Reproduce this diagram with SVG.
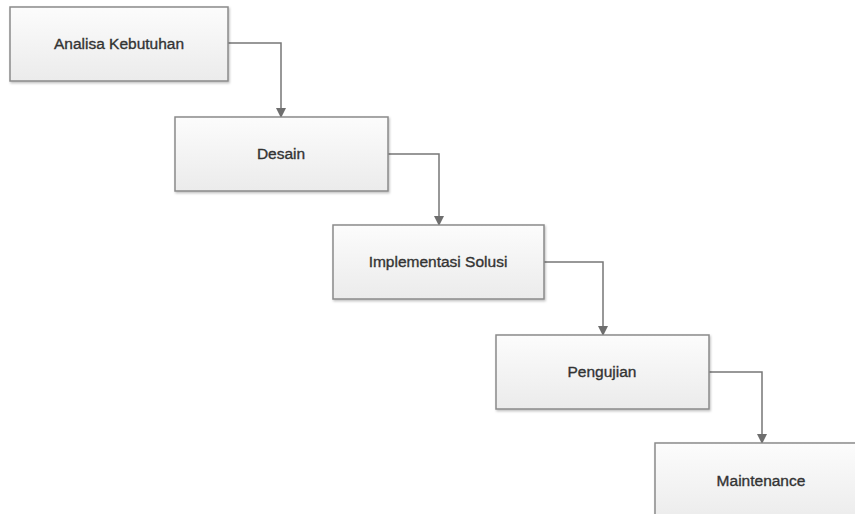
<svg xmlns="http://www.w3.org/2000/svg" width="855" height="514" viewBox="0 0 855 514">
<defs>
<linearGradient id="boxfill" x1="0" y1="0" x2="0" y2="1">
<stop offset="0" stop-color="#fcfcfc"/>
<stop offset="1" stop-color="#ebebeb"/>
</linearGradient>
<filter id="shadow" x="-5%" y="-5%" width="110%" height="115%">
<feDropShadow dx="1" dy="1.5" stdDeviation="1" flood-color="#000" flood-opacity="0.25"/>
</filter>
<marker id="arrow" viewBox="0 0 10 10" refX="9" refY="5" markerWidth="10" markerHeight="10" markerUnits="userSpaceOnUse" orient="auto">
<path d="M0,0 L10,5 L0,10 Z" fill="#6e6e6e"/>
</marker>
</defs>
<style>
.box{fill:url(#boxfill);stroke:#8a8a8a;stroke-width:1.5;filter:url(#shadow);}
.lbl{font-family:"Liberation Sans",Arial,sans-serif;font-size:15.5px;fill:#333;stroke:#333;stroke-width:0.35;text-anchor:middle;}
.conn{fill:none;stroke:#777;stroke-width:1.5;marker-end:url(#arrow);}
</style>
<rect width="855" height="514" fill="#ffffff"/>
<g id="connectors">
<path class="conn" d="M228,43 H281 V117"/>
<path class="conn" d="M388,154 H439 V225"/>
<path class="conn" d="M544,262 H603 V335"/>
<path class="conn" d="M709,372 H762 V443"/>
</g>
<g id="node-analisa">
<rect class="box" x="10" y="7" width="218" height="74"/>
<text class="lbl" x="119" y="49">Analisa Kebutuhan</text>
</g>
<g id="node-desain">
<rect class="box" x="175" y="117" width="213" height="74"/>
<text class="lbl" x="281" y="159">Desain</text>
</g>
<g id="node-implementasi">
<rect class="box" x="333" y="225" width="211" height="74"/>
<text class="lbl" x="438" y="267">Implementasi Solusi</text>
</g>
<g id="node-pengujian">
<rect class="box" x="496" y="335" width="213" height="74"/>
<text class="lbl" x="602" y="377">Pengujian</text>
</g>
<g id="node-maintenance">
<rect class="box" x="655" y="443" width="213" height="80"/>
<text class="lbl" x="761" y="486">Maintenance</text>
</g>
</svg>
